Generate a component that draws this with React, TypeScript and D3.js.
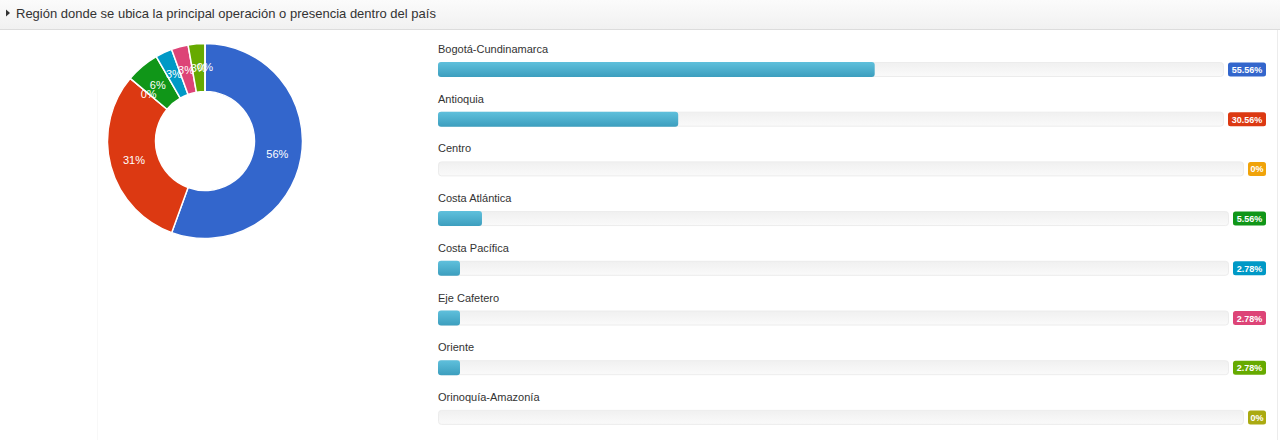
import React from "react";
import * as d3 from "d3";

const title = "Región donde se ubica la principal operación o presencia dentro del país";
const regions = [
  "Bogotá-Cundinamarca",
  "Antioquia",
  "Centro",
  "Costa Atlántica",
  "Costa Pacífica",
  "Eje Cafetero",
  "Oriente",
  "Orinoquía-Amazonía",
];
const percents = [55.56, 30.56, 0, 5.56, 2.78, 2.78, 2.78, 0];
const percentLabels = ["55.56%", "30.56%", "0%", "5.56%", "2.78%", "2.78%", "2.78%", "0%"];
const pieLabels = ["56%", "31%", "0%", "6%", "3%", "3%", "3%", "0%"];
const colors = ["#3366cc", "#dc3912", "#f0a30a", "#109618", "#0099c6", "#dd4477", "#66aa00", "#aaaa11"];

const W = 1280;
const H = 440;

export default function App() {
  const cx = 205;
  const cy = 141;
  const R = 97.5;
  const r0 = 49.5;
  const pie = d3.pie<number>().sort(null).value((d) => d)(percents);
  const arc = d3.arc<d3.PieArcDatum<number>>().innerRadius(r0).outerRadius(R);
  const labelArc = d3.arc<d3.PieArcDatum<number>>().innerRadius((r0 + R) / 2).outerRadius((r0 + R) / 2);

  const rowY = d3.scaleLinear().domain([0, 1]).range([49, 98.7]);
  const x0 = 438;
  const rightEdge = 1266;

  return (
    <div>
      <style>{`body{margin:0;}`}</style>
      <svg width={W} height={H} style={{ display: "block", fontFamily: "Arial, 'Liberation Sans', sans-serif" }}>
        <defs>
          <linearGradient id="hdr" x1="0" y1="0" x2="0" y2="1">
            <stop offset="0" stopColor="#fbfbfb" />
            <stop offset="1" stopColor="#f1f1f1" />
          </linearGradient>
          <linearGradient id="fill" x1="0" y1="0" x2="0" y2="1">
            <stop offset="0" stopColor="#5fc0dc" />
            <stop offset="1" stopColor="#3c9ebe" />
          </linearGradient>
          <linearGradient id="track" x1="0" y1="0" x2="0" y2="1">
            <stop offset="0" stopColor="#f0f0f0" />
            <stop offset="1" stopColor="#fafafa" />
          </linearGradient>
        </defs>
        <rect x={0} y={0} width={W} height={H} fill="#ffffff" />
        {/* header */}
        <rect x={0} y={0} width={W} height={29} fill="url(#hdr)" />
        <line x1={0} x2={W} y1={29.5} y2={29.5} stroke="#dcdcdc" />
        <path d="M6,9.5 L10,13 L6,16.5 Z" fill="#333" />
        <text x={16} y={17.5} fontSize={13} fill="#333">{title}</text>
        <line x1={97.5} x2={97.5} y1={90} y2={H} stroke="#f8f8f8" />
        <line x1={1277.5} x2={1277.5} y1={30} y2={H} stroke="#ececec" />

        {/* donut */}
        <g transform={`translate(${cx},${cy})`}>
          {pie.map((p, i) => (
            <path key={i} d={arc(p) || ""} fill={colors[i]} stroke="#fff" strokeWidth={1.5} />
          ))}
          {pie.map((p, i) => {
            const [lx, ly] = labelArc.centroid(p);
            return (
              <text key={"l" + i} x={lx} y={ly} dy="0.35em" textAnchor="middle" fontSize={11} fill="#fff">
                {pieLabels[i]}
              </text>
            );
          })}
        </g>

        {/* bars */}
        {regions.map((name, i) => {
          const yl = rowY(i);
          const ty = yl + 13;
          const th = 15;
          const label = percentLabels[i];
          const bw = label.length * 5.0 + 8;
          const bx = rightEdge - bw;
          const trackW = bx - 4 - x0;
          const xs = d3.scaleLinear().domain([0, 100]).range([0, trackW]);
          const fw = xs(percents[i]);
          return (
            <g key={name}>
              <text x={x0} y={yl + 4} fontSize={11} fill="#333">{name}</text>
              <rect x={x0 + 0.5} y={ty + 0.5} width={trackW - 1} height={th - 1} rx={3} fill="url(#track)" stroke="#ececec" />
              {fw > 0 && (
                <rect x={x0} y={ty} width={fw} height={th} rx={3} fill="url(#fill)" />
              )}
              <rect x={bx} y={ty + 0.5} width={bw} height={14} rx={2.5} fill={colors[i]} />
              <text x={bx + bw / 2} y={ty + 11} fontSize={9} fontWeight="bold" fill="#fff" textAnchor="middle">
                {label}
              </text>
            </g>
          );
        })}
      </svg>
    </div>
  );
}
